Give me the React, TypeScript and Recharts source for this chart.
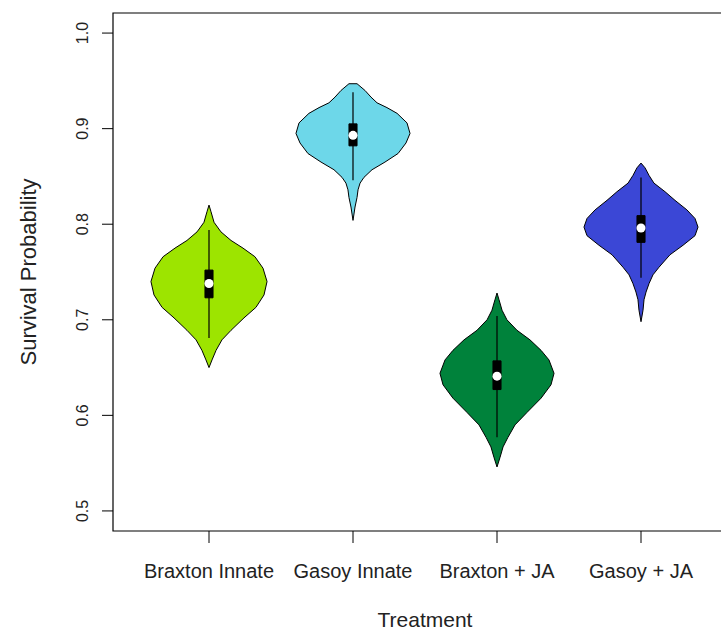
import React from 'react';
import { ComposedChart, Scatter, XAxis, YAxis, ReferenceArea, Label } from 'recharts';

const treatments = ['Braxton Innate', 'Gasoy Innate', 'Braxton + JA', 'Gasoy + JA'];
const violinColors = ['#9de400', '#6dd7e9', '#00823b', '#3b47d6'];
const xTicks = [1, 2, 3, 4];
const yTicks = [0.5, 0.6, 0.7, 0.8, 0.9, 1.0];

// density outlines: probability levels (top -> bottom) and half widths in category units
const braxtonInnateLevels = [0.820, 0.813, 0.802, 0.792, 0.783, 0.775, 0.766, 0.754, 0.740, 0.726, 0.713, 0.702, 0.689, 0.679, 0.668, 0.658, 0.650];
const braxtonInnateWidths = [0, 0.014, 0.035, 0.083, 0.153, 0.236, 0.319, 0.375, 0.403, 0.382, 0.326, 0.243, 0.153, 0.090, 0.049, 0.021, 0];

const gasoyInnateLevels = [0.947, 0.940, 0.933, 0.927, 0.922, 0.916, 0.906, 0.895, 0.885, 0.874, 0.865, 0.857, 0.849, 0.843, 0.836, 0.828, 0.818, 0.804];
const gasoyInnateWidths = [0.028, 0.083, 0.125, 0.167, 0.236, 0.306, 0.375, 0.396, 0.368, 0.313, 0.222, 0.132, 0.076, 0.049, 0.035, 0.028, 0.014, 0];

const braxtonJaLevels = [0.728, 0.721, 0.710, 0.700, 0.689, 0.679, 0.668, 0.658, 0.644, 0.632, 0.618, 0.603, 0.590, 0.577, 0.567, 0.556, 0.546];
const braxtonJaWidths = [0, 0.014, 0.035, 0.069, 0.139, 0.229, 0.306, 0.361, 0.396, 0.375, 0.306, 0.208, 0.125, 0.076, 0.042, 0.021, 0];

const gasoyJaLevels = [0.864, 0.859, 0.851, 0.843, 0.834, 0.825, 0.815, 0.806, 0.797, 0.788, 0.778, 0.768, 0.755, 0.747, 0.738, 0.729, 0.721, 0.710, 0.698];
const gasoyJaWidths = [0, 0.028, 0.056, 0.090, 0.167, 0.236, 0.319, 0.375, 0.396, 0.375, 0.292, 0.201, 0.125, 0.083, 0.056, 0.035, 0.021, 0.014, 0];

// [lower whisker, q1, median, q3, upper whisker]
const braxtonInnateStats = [0.681, 0.723, 0.738, 0.752, 0.794];
const gasoyInnateStats = [0.846, 0.882, 0.893, 0.905, 0.938];
const braxtonJaStats = [0.577, 0.627, 0.641, 0.657, 0.704];
const gasoyJaStats = [0.744, 0.781, 0.796, 0.809, 0.849];

const levels = [braxtonInnateLevels, gasoyInnateLevels, braxtonJaLevels, gasoyJaLevels];
const widths = [braxtonInnateWidths, gasoyInnateWidths, braxtonJaWidths, gasoyJaWidths];
const stats = [braxtonInnateStats, gasoyInnateStats, braxtonJaStats, gasoyJaStats];

const xDomain = [1 / 3, 14 / 3];
const yDomain = [0.479, 1.021];
const boxHalf = 0.028;
const font = '"Liberation Sans", Arial, sans-serif';
const textColor = '#222';

const outline = (center: number, lv: number[], wd: number[]) => {
  const left = lv.map((y, i) => ({ x: center - wd[i], y }));
  const right = lv.map((y, i) => ({ x: center + wd[i], y })).reverse();
  return [...left, ...right, left[0]];
};

const boxPoints = (center: number, s: number[]) => [
  { x: center - boxHalf, y: s[3] },
  { x: center + boxHalf, y: s[3] },
  { x: center + boxHalf, y: s[1] },
  { x: center - boxHalf, y: s[1] },
  { x: center - boxHalf, y: s[3] },
];

const noDot = () => <g />;

const XTick = (props: any) => {
  const { x, y, payload } = props;
  return (
    <text x={x} y={y + 33} textAnchor="middle" fontFamily={font} fontSize={20} fill={textColor}>
      {treatments[payload.value - 1]}
    </text>
  );
};

const YTick = (props: any) => {
  const { x, y, payload } = props;
  const tx = x - 12;
  return (
    <text x={tx} y={y} transform={`rotate(-90, ${tx}, ${y})`} textAnchor="middle" fontFamily={font} fontSize={16} fill={textColor}>
      {payload.value.toFixed(1)}
    </text>
  );
};

export default function App() {
  return (
    <div style={{ position: 'fixed', left: 0, top: 0, width: 721, height: 631, overflow: 'hidden', background: '#fff' }}>
      <ComposedChart width={745} height={631} margin={{ top: 13, right: 8, left: 53, bottom: 40 }}>
        <XAxis
          type="number"
          dataKey="x"
          domain={xDomain}
          ticks={xTicks}
          interval={0}
          allowDataOverflow
          axisLine={false}
          tickSize={12}
          tickLine={{ stroke: '#000' }}
          tick={<XTick />}
          height={60}
        >
          <Label
            content={(p: any) => (
              <text
                x={p.viewBox.x + p.viewBox.width / 2}
                y={p.viewBox.y + 96}
                textAnchor="middle"
                fontFamily={font}
                fontSize={21}
                fill={textColor}
              >
                Treatment
              </text>
            )}
          />
        </XAxis>
        <YAxis
          type="number"
          dataKey="y"
          domain={yDomain}
          ticks={yTicks}
          interval={0}
          allowDataOverflow
          axisLine={false}
          tickSize={11}
          tickLine={{ stroke: '#000' }}
          tick={<YTick />}
          width={60}
        >
          <Label
            content={(p: any) => {
              const cy = p.viewBox.y + p.viewBox.height / 2;
              return (
                <text x={35.5} y={cy} transform={`rotate(-90, 35.5, ${cy})`} textAnchor="middle" fontFamily={font} fontSize={22} fill={textColor}>
                  Survival Probability
                </text>
              );
            }}
          />
        </YAxis>
        <ReferenceArea x1={xDomain[0]} x2={xDomain[1]} y1={yDomain[0]} y2={yDomain[1]} fill="none" stroke="#000" strokeWidth={1.2} />
        {treatments.map((t, i) => (
          <Scatter
            key={`v-${t}`}
            data={outline(i + 1, levels[i], widths[i])}
            line={{ fill: violinColors[i], stroke: '#000', strokeWidth: 1 }}
            lineType="joint"
            shape={noDot}
            isAnimationActive={false}
          />
        ))}
        {treatments.map((t, i) => (
          <Scatter
            key={`w-${t}`}
            data={[{ x: i + 1, y: stats[i][4] }, { x: i + 1, y: stats[i][0] }]}
            line={{ fill: 'none', stroke: '#000', strokeWidth: 1.2 }}
            lineType="joint"
            shape={noDot}
            isAnimationActive={false}
          />
        ))}
        {treatments.map((t, i) => (
          <Scatter
            key={`b-${t}`}
            data={boxPoints(i + 1, stats[i])}
            line={{ fill: '#000', stroke: '#000', strokeWidth: 1 }}
            lineType="joint"
            shape={noDot}
            isAnimationActive={false}
          />
        ))}
        {treatments.map((t, i) => (
          <Scatter
            key={`m-${t}`}
            data={[{ x: i + 1, y: stats[i][2] }]}
            shape={(p: any) => <circle cx={p.cx} cy={p.cy} r={4.5} fill="#fff" />}
            isAnimationActive={false}
          />
        ))}
      </ComposedChart>
    </div>
  );
}
